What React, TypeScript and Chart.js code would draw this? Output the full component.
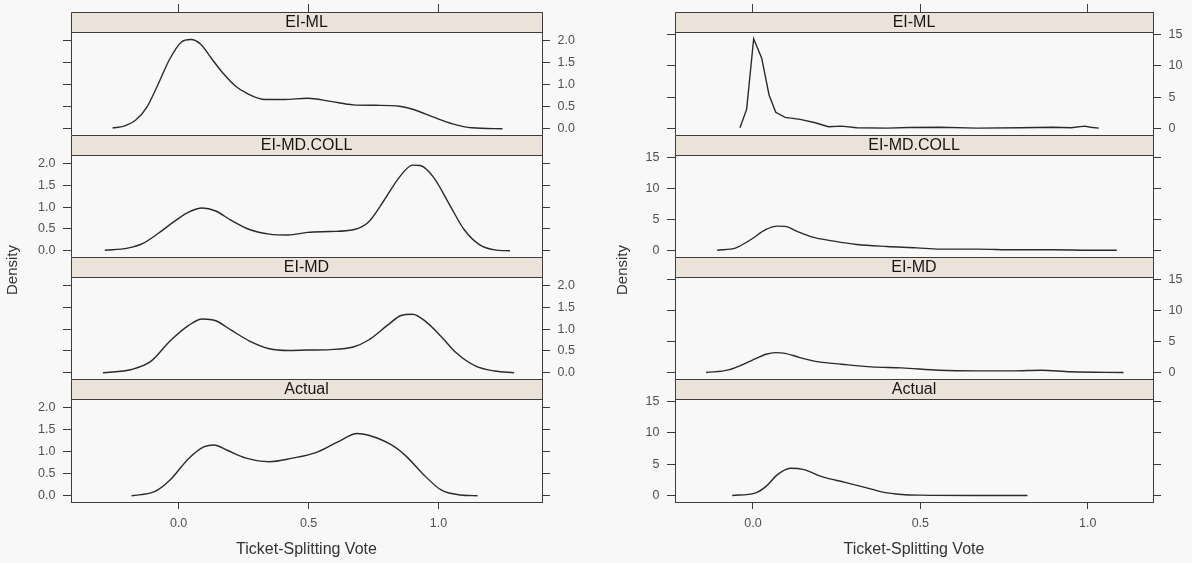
import React, { useEffect, useRef } from "react";
import { Chart, registerables } from "chart.js";

Chart.register(...registerables);

// ---- labels and ticks ----
const panelNames = ["EI-ML", "EI-MD.COLL", "EI-MD", "Actual"];
const xTickValues = [0, 0.5, 1];
const xTickLabels = ["0.0", "0.5", "1.0"];
const leftYTickValues = [0, 0.5, 1, 1.5, 2];
const leftYTickLabels = ["0.0", "0.5", "1.0", "1.5", "2.0"];
const rightYTickValues = [0, 5, 10, 15];
const rightYTickLabels = ["0", "5", "10", "15"];
const xAxisTitle = "Ticket-Splitting Vote";
const yAxisTitle = "Density";

// ---- left column: density curves ----
const leftMLx = [-0.254, -0.21, -0.166, -0.122, -0.078, -0.034, 0.01, 0.047, 0.084, 0.128, 0.172, 0.216, 0.26, 0.334, 0.407, 0.496, 0.584, 0.672, 0.76, 0.849, 0.907, 0.981, 1.054, 1.128, 1.246];
const leftMLy = [0.015, 0.06, 0.19, 0.49, 1.02, 1.58, 1.96, 2.02, 1.92, 1.58, 1.25, 0.98, 0.81, 0.66, 0.66, 0.69, 0.62, 0.54, 0.53, 0.51, 0.43, 0.26, 0.11, 0.02, 0.0];

const leftCollx = [-0.284, -0.196, -0.137, -0.078, -0.019, 0.04, 0.091, 0.143, 0.201, 0.275, 0.349, 0.422, 0.496, 0.584, 0.672, 0.731, 0.79, 0.849, 0.9, 0.929, 0.981, 1.04, 1.099, 1.157, 1.216, 1.275];
const leftColly = [0.01, 0.06, 0.17, 0.4, 0.66, 0.89, 0.98, 0.91, 0.7, 0.48, 0.38, 0.36, 0.42, 0.44, 0.48, 0.66, 1.15, 1.68, 1.96, 1.95, 1.68, 1.08, 0.48, 0.14, 0.02, 0.0];

const leftMDx = [-0.291, -0.181, -0.107, -0.034, 0.04, 0.091, 0.143, 0.201, 0.275, 0.349, 0.422, 0.496, 0.584, 0.672, 0.731, 0.804, 0.856, 0.9, 0.951, 1.01, 1.069, 1.143, 1.216, 1.29];
const leftMDy = [0.0, 0.075, 0.26, 0.72, 1.09, 1.23, 1.19, 0.98, 0.72, 0.55, 0.51, 0.52, 0.53, 0.59, 0.75, 1.09, 1.31, 1.34, 1.17, 0.83, 0.45, 0.15, 0.04, 0.0];

const leftActualx = [-0.181, -0.093, -0.034, 0.04, 0.099, 0.135, 0.187, 0.26, 0.349, 0.437, 0.525, 0.613, 0.687, 0.731, 0.819, 0.878, 0.937, 1.01, 1.084, 1.15];
const leftActualy = [0.0, 0.09, 0.35, 0.85, 1.11, 1.15, 1.03, 0.85, 0.77, 0.85, 0.97, 1.22, 1.41, 1.37, 1.15, 0.88, 0.51, 0.13, 0.015, 0.0];

// ---- right column: density curves ----
const rightMLx = [-0.039, -0.019, 0.002, 0.026, 0.048, 0.068, 0.096, 0.141, 0.186, 0.225, 0.265, 0.31, 0.4, 0.467, 0.557, 0.67, 0.8, 0.895, 0.95, 0.991, 1.008, 1.033];
const rightMLy = [0.1, 3.05, 14.35, 11.25, 5.36, 2.57, 1.77, 1.45, 0.91, 0.27, 0.37, 0.1, 0.05, 0.16, 0.2, 0.05, 0.1, 0.2, 0.1, 0.37, 0.2, 0.05];

const rightCollx = [-0.107, -0.051, -0.006, 0.039, 0.073, 0.096, 0.13, 0.175, 0.242, 0.31, 0.4, 0.49, 0.557, 0.67, 0.783, 0.895, 1.008, 1.087];
const rightColly = [0.05, 0.43, 1.78, 3.4, 3.94, 3.89, 3.13, 2.21, 1.51, 0.97, 0.65, 0.43, 0.22, 0.22, 0.11, 0.11, 0.05, 0.05];

const rightMDx = [-0.14, -0.073, -0.006, 0.039, 0.067, 0.096, 0.14, 0.197, 0.264, 0.354, 0.444, 0.556, 0.669, 0.781, 0.86, 0.949, 1.107];
const rightMDy = [0.0, 0.43, 1.87, 2.95, 3.21, 3.1, 2.41, 1.71, 1.34, 0.91, 0.75, 0.37, 0.27, 0.27, 0.37, 0.11, 0.0];

const rightActualx = [-0.062, 0.006, 0.039, 0.073, 0.112, 0.152, 0.208, 0.275, 0.331, 0.388, 0.444, 0.5, 0.669, 0.82];
const rightActualy = [0.0, 0.38, 1.45, 3.33, 4.35, 4.14, 2.96, 2.1, 1.34, 0.54, 0.16, 0.05, 0.0, 0.0];

// ---- look ----
const FONT = "'Liberation Sans', Arial, Helvetica, sans-serif";
const BG = "#f8f8f8";
const AXIS_COLOR = "#3c3c3c";
const TICK_COLOR = "#505050";
const LINE_COLOR = "#2a2a2a";
const STRIP_FILL = "#ebe3da";
const STRIP_TEXT = "#151515";

// ---- panel layout (page pixels) ----
const PAGE_H = 563;
const STRIP_TOPS = [12, 135, 257, 379];
const AREA_BOTTOMS = [135, 257, 379, 502];
const STRIP_H = 20.5;
const TOP_AXIS_H = 9;
const TITLE_Y = 270;

type Panel = { xs: number[]; ys: number[]; smooth: boolean };
type Side = {
  left: number;
  width: number;
  boxLeft: number;
  boxRight: number;
  axisW: number;
  xMin: number;
  xMax: number;
  yMin: number;
  yMax: number;
  yTicks: number[];
  yLabels: string[];
  yTitleX: number;
  panels: Panel[];
};

const sides: Side[] = [
  {
    left: 0,
    width: 600,
    boxLeft: 71,
    boxRight: 542,
    axisW: 40,
    xMin: -0.414,
    xMax: 1.398,
    yMin: -0.143,
    yMax: 2.18,
    yTicks: leftYTickValues,
    yLabels: leftYTickLabels,
    yTitleX: 13,
    panels: [
      { xs: leftMLx, ys: leftMLy, smooth: true },
      { xs: leftCollx, ys: leftColly, smooth: true },
      { xs: leftMDx, ys: leftMDy, smooth: true },
      { xs: leftActualx, ys: leftActualy, smooth: true },
    ],
  },
  {
    left: 600,
    width: 592,
    boxLeft: 75,
    boxRight: 553,
    axisW: 36,
    xMin: -0.233,
    xMax: 1.195,
    yMin: -1.05,
    yMax: 15.35,
    yTicks: rightYTickValues,
    yLabels: rightYTickLabels,
    yTitleX: 22.5,
    panels: [
      { xs: rightMLx, ys: rightMLy, smooth: false },
      { xs: rightCollx, ys: rightColly, smooth: true },
      { xs: rightMDx, ys: rightMDy, smooth: true },
      { xs: rightActualx, ys: rightActualy, smooth: true },
    ],
  },
];

const crisp = (p: number) => Math.round(p - 0.5) + 0.5;

function buildChart(canvas: HTMLCanvasElement, side: Side, i: number) {
  const panel = side.panels[i];
  const isTop = i === 0;
  const isBottom = i === panelNames.length - 1;
  const labelsRight = i % 2 === 0;
  const areaH = AREA_BOTTOMS[i] - STRIP_TOPS[i];
  const plotH = areaH - STRIP_H;
  // the strip sits inside the chart area, above the plotted range
  const yMaxExt = side.yMax + ((side.yMax - side.yMin) * STRIP_H) / plotH;

  const bottomAxisH = PAGE_H - AREA_BOTTOMS[panelNames.length - 1];
  const xAxisH = isTop ? TOP_AXIS_H : isBottom ? bottomAxisH : 0;

  const yAxis = (position: "left" | "right", showLabels: boolean) => ({
    type: "linear" as const,
    position,
    min: side.yMin,
    max: yMaxExt,
    afterBuildTicks: (s: any) => {
      s.ticks = side.yTicks.map((v) => ({ value: v }));
    },
    afterFit: (s: any) => {
      s.width = side.axisW;
      s.paddingTop = 0;
      s.paddingBottom = 0;
    },
    grid: { drawOnChartArea: false, drawTicks: true, tickLength: 8, color: AXIS_COLOR, lineWidth: 1 },
    border: { display: true, color: AXIS_COLOR, width: 1 },
    ticks: {
      autoSkip: false,
      padding: 7.5,
      color: TICK_COLOR,
      font: { size: 12.5, family: FONT },
      callback: (_v: any, idx: number) => (showLabels ? side.yLabels[idx] : ""),
    },
  });

  const framePlugin = {
    id: "latticeFrame",
    beforeDatasetsDraw(chart: any) {
      const { ctx, chartArea: a } = chart;
      ctx.save();
      ctx.fillStyle = STRIP_FILL;
      ctx.fillRect(a.left, a.top, a.right - a.left, STRIP_H);
      ctx.strokeStyle = AXIS_COLOR;
      ctx.lineWidth = 1;
      const l = crisp(a.left);
      const r = crisp(a.right);
      const t = crisp(a.top);
      const sb = crisp(a.top + STRIP_H);
      const b = crisp(a.bottom);
      ctx.beginPath();
      ctx.moveTo(l, t);
      ctx.lineTo(r, t);
      ctx.moveTo(l, sb);
      ctx.lineTo(r, sb);
      ctx.moveTo(l, b);
      ctx.lineTo(r, b);
      ctx.moveTo(l, t);
      ctx.lineTo(l, b);
      ctx.moveTo(r, t);
      ctx.lineTo(r, b);
      ctx.stroke();
      ctx.fillStyle = STRIP_TEXT;
      ctx.font = `16px ${FONT}`;
      ctx.textAlign = "center";
      ctx.textBaseline = "middle";
      ctx.fillText(panelNames[i], (a.left + a.right) / 2, a.top + STRIP_H / 2 + 0.5);
      ctx.restore();
    },
    afterDraw(chart: any) {
      if (!isTop) return;
      const { ctx } = chart;
      ctx.save();
      ctx.translate(side.yTitleX, TITLE_Y);
      ctx.rotate(-Math.PI / 2);
      ctx.fillStyle = "#333333";
      ctx.font = `15px ${FONT}`;
      ctx.textAlign = "center";
      ctx.textBaseline = "middle";
      ctx.fillText(yAxisTitle, 0, 0);
      ctx.restore();
    },
  };

  return new Chart(canvas, {
    type: "line",
    data: {
      datasets: [
        {
          data: panel.xs.map((x, k) => ({ x, y: panel.ys[k] })),
          borderColor: LINE_COLOR,
          borderWidth: 1.4,
          pointRadius: 0,
          fill: false,
          tension: panel.smooth ? 0.4 : 0,
          cubicInterpolationMode: panel.smooth ? "monotone" : "default",
        },
      ],
    },
    options: {
      responsive: false,
      maintainAspectRatio: false,
      animation: false,
      events: [],
      layout: {
        autoPadding: false,
        padding: {
          left: side.boxLeft - side.axisW,
          right: side.width - side.boxRight - side.axisW,
          top: isTop ? STRIP_TOPS[i] - TOP_AXIS_H : STRIP_TOPS[i],
          bottom: isBottom ? 0 : PAGE_H - AREA_BOTTOMS[i],
        },
      },
      plugins: {
        legend: { display: false },
        tooltip: { enabled: false },
        title: { display: false },
      },
      scales: {
        x: {
          type: "linear",
          min: side.xMin,
          max: side.xMax,
          position: isTop ? "top" : "bottom",
          display: isTop || isBottom,
          afterBuildTicks: (s: any) => {
            s.ticks = xTickValues.map((v) => ({ value: v }));
          },
          afterFit: (s: any) => {
            s.height = xAxisH;
            s.paddingLeft = 0;
            s.paddingRight = 0;
          },
          grid: { drawOnChartArea: false, drawTicks: true, tickLength: isTop ? 8 : 7, color: AXIS_COLOR, lineWidth: 1 },
          border: { display: true, color: AXIS_COLOR, width: 1 },
          ticks: {
            display: isBottom,
            autoSkip: false,
            maxRotation: 0,
            padding: 7,
            color: TICK_COLOR,
            font: { size: 12.5, family: FONT },
            callback: (_v: any, idx: number) => xTickLabels[idx],
          },
          title: {
            display: isBottom,
            text: xAxisTitle,
            color: "#333333",
            font: { size: 16, family: FONT },
            padding: { top: 0, bottom: 3.5 },
          },
        },
        y: yAxis("left", !labelsRight),
        y2: yAxis("right", labelsRight),
      },
    } as any,
    plugins: [framePlugin],
  });
}

export default function App() {
  const refs = useRef<(HTMLCanvasElement | null)[]>([]);

  useEffect(() => {
    Chart.defaults.font.family = FONT;
    const charts: Chart[] = [];
    sides.forEach((side, s) => {
      side.panels.forEach((_p, i) => {
        const canvas = refs.current[s * 4 + i];
        if (canvas) charts.push(buildChart(canvas, side, i));
      });
    });
    return () => charts.forEach((c) => c.destroy());
  }, []);

  return (
    <div
      style={{
        position: "absolute",
        left: 0,
        top: 0,
        width: 1192,
        height: PAGE_H,
        background: BG,
        overflow: "hidden",
      }}
    >
      {sides.map((side, s) =>
        side.panels.map((_p, i) => (
          <canvas
            key={`${s}-${i}`}
            ref={(el) => {
              refs.current[s * 4 + i] = el;
            }}
            width={side.width}
            height={PAGE_H}
            style={{
              position: "absolute",
              left: side.left,
              top: 0,
              width: side.width,
              height: PAGE_H,
            }}
          />
        ))
      )}
    </div>
  );
}
